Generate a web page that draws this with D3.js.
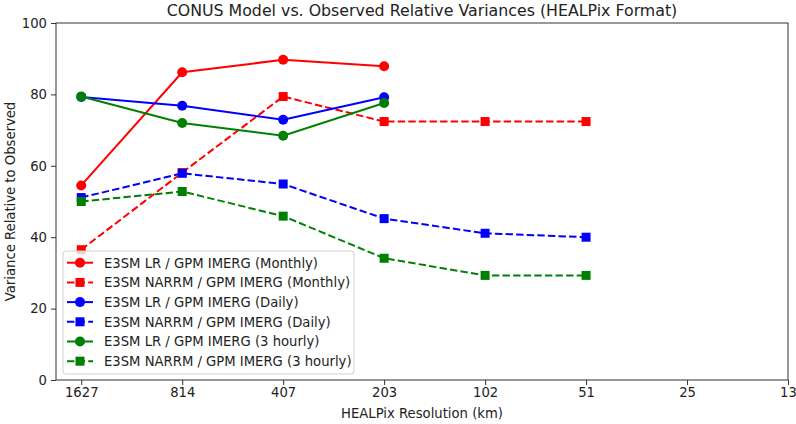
<!DOCTYPE html>
<html>
<head>
<meta charset="utf-8">
<script src="https://cdn.jsdelivr.net/npm/d3@7"></script>
<style>
  body { margin: 0; background: #fff; }
  svg { font-family: "DejaVu Sans", sans-serif; }
</style>
</head>
<body>
<svg id="chart" width="796" height="424"></svg>
<script>
// x categories (HEALPix resolution, km)
const resolutions = ['1627', '814', '407', '203', '102', '51', '25', '13'];
const yTicks = [0, 20, 40, 60, 80, 100];

// series values
const lrMonthly = [54.5, 86.2, 89.7, 87.9];
const narrmMonthly = [36.5, 58.1, 79.4, 72.4, 72.4, 72.4];
const lrDaily = [79.3, 76.8, 72.9, 79.2];
const narrmDaily = [51.1, 57.9, 54.9, 45.2, 41.1, 40.0];
const lr3h = [79.4, 72.0, 68.4, 77.6];
const narrm3h = [50.0, 52.8, 45.9, 34.1, 29.3, 29.3];

const series = [
  { label: 'E3SM LR / GPM IMERG (Monthly)', values: lrMonthly, color: 'red', dashed: false },
  { label: 'E3SM NARRM / GPM IMERG (Monthly)', values: narrmMonthly, color: 'red', dashed: true },
  { label: 'E3SM LR / GPM IMERG (Daily)', values: lrDaily, color: 'blue', dashed: false },
  { label: 'E3SM NARRM / GPM IMERG (Daily)', values: narrmDaily, color: 'blue', dashed: true },
  { label: 'E3SM LR / GPM IMERG (3 hourly)', values: lr3h, color: '#008000', dashed: false },
  { label: 'E3SM NARRM / GPM IMERG (3 hourly)', values: narrm3h, color: '#008000', dashed: true }
];

const fontSize = 13.2;
const margin = { top: 23, right: 8, bottom: 44, left: 56 };
const width = 796 - margin.left - margin.right,
  height = 424 - margin.top - margin.bottom;

const svg = d3.select('#chart');
const g = svg.append('g').attr('transform', `translate(${margin.left}, ${margin.top})`);

// linear index scale so the first category sits a bit off the left spine
const x = d3.scaleLinear().domain([-0.25, 7]).range([0, width]);
const y = d3.scaleLinear().domain([0, 100]).range([height, 0]);

// axes
const xAxis = g.append('g')
  .attr('transform', `translate(0, ${height})`)
  .call(d3.axisBottom(x).tickValues(d3.range(resolutions.length))
    .tickFormat(i => resolutions[i]).tickSize(5).tickPadding(3).tickSizeOuter(0));
const yAxis = g.append('g')
  .call(d3.axisLeft(y).tickValues(yTicks).tickSize(5).tickPadding(4).tickSizeOuter(0));

[xAxis, yAxis].forEach(a => {
  a.select('.domain').remove();
  a.selectAll('text').attr('font-size', fontSize).attr('fill', '#222')
    .attr('font-family', '"DejaVu Sans", sans-serif');
  a.selectAll('line').attr('stroke', '#333');
});

// frame
g.append('rect')
  .attr('width', width).attr('height', height)
  .attr('fill', 'none').attr('stroke', '#333').attr('stroke-width', 1);

const line = d3.line()
  .x((d, i) => x(i))
  .y(d => y(d));

series.forEach(s => {
  g.append('path')
    .datum(s.values)
    .attr('d', line)
    .attr('fill', 'none')
    .attr('stroke', s.color)
    .attr('stroke-width', 2)
    .attr('stroke-dasharray', s.dashed ? '7.4,3.2' : null);

  if (s.dashed) {
    g.selectAll(null)
      .data(s.values)
      .enter()
      .append('rect')
      .attr('x', (d, i) => x(i) - 4.5)
      .attr('y', d => y(d) - 4.5)
      .attr('width', 9).attr('height', 9)
      .attr('fill', s.color);
  } else {
    g.selectAll(null)
      .data(s.values)
      .enter()
      .append('circle')
      .attr('cx', (d, i) => x(i))
      .attr('cy', d => y(d))
      .attr('r', 5)
      .attr('fill', s.color);
  }
});

// legend
const legend = svg.append('g').attr('transform', 'translate(63, 251)');
legend.append('rect')
  .attr('width', 291).attr('height', 123)
  .attr('rx', 3)
  .attr('fill', 'white').attr('fill-opacity', 0.8)
  .attr('stroke', '#d0d0d0');

series.forEach((s, i) => {
  const row = legend.append('g').attr('transform', `translate(0, ${11.7 + i * 19.7})`);
  row.append('line')
    .attr('x1', 4).attr('x2', 30)
    .attr('stroke', s.color).attr('stroke-width', 2)
    .attr('stroke-dasharray', s.dashed ? '7.4,3.2' : null);
  if (s.dashed) {
    row.append('rect').attr('x', 12.5).attr('y', -4.5).attr('width', 9).attr('height', 9).attr('fill', s.color);
  } else {
    row.append('circle').attr('cx', 17).attr('r', 5).attr('fill', s.color);
  }
  row.append('text')
    .attr('x', 41).attr('y', 4.8)
    .attr('font-size', fontSize).attr('fill', '#222')
    .text(s.label);
});

// title and axis labels
svg.append('text')
  .attr('x', margin.left + width / 2).attr('y', 16)
  .attr('text-anchor', 'middle').attr('font-size', 15.8).attr('fill', '#222')
  .text('CONUS Model vs. Observed Relative Variances (HEALPix Format)');

svg.append('text')
  .attr('x', margin.left + width / 2).attr('y', 418)
  .attr('text-anchor', 'middle').attr('font-size', fontSize).attr('fill', '#222')
  .text('HEALPix Resolution (km)');

svg.append('text')
  .attr('transform', `translate(15, ${margin.top + height / 2}) rotate(-90)`)
  .attr('text-anchor', 'middle').attr('font-size', fontSize).attr('fill', '#222')
  .text('Variance Relative to Observed');
</script>
</body>
</html>
